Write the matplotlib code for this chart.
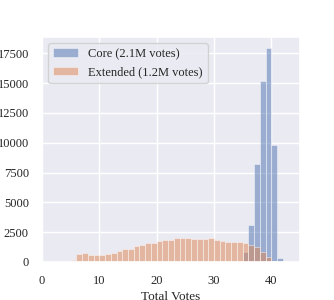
import matplotlib
matplotlib.use("Agg")
import matplotlib.pyplot as plt
import seaborn as sns
import numpy as np

sns.set_theme(style="darkgrid")
plt.rcParams['font.family'] = ['Liberation Serif', 'DejaVu Serif']

# bin left edges (width 1)
core_bins = [35, 36, 37, 38, 39, 40, 41]
core_counts = [830, 3080, 8220, 15140, 17980, 9780, 330]

ext_bins = list(range(4, 41))
ext_counts = [30, 170, 690, 780, 550, 550, 550, 690, 780, 890, 1060, 1090,
              1320, 1440, 1610, 1610, 1780, 1840, 1810, 2010, 2010, 2010,
              1950, 1925, 1925, 2010, 1810, 1750, 1700, 1640, 1670, 1550,
              1440, 1210, 860, 430, 115]

labels = ["Core (2.1M votes)", "Extended (1.2M votes)"]
colors = ["#4C72B0", "#DD8452"]

fig = plt.figure(figsize=(3.34, 3.0), dpi=100)
ax = fig.add_axes([0.126, 0.127, 0.772, 0.75])

edges = np.arange(0, 46)
ax.hist(core_bins, bins=edges, weights=core_counts, color=colors[0], alpha=0.5,
        edgecolor="white", linewidth=0.6, label=labels[0])
ax.hist(ext_bins, bins=edges, weights=ext_counts, color=colors[1], alpha=0.5,
        edgecolor="white", linewidth=0.6, label=labels[1])

ax.set_xlim(0, 45)
ax.set_xticks([0, 10, 20, 30, 40])
ax.set_yticks(np.arange(0, 17501, 2500))
ax.tick_params(labelsize=9)
ax.set_xlabel("Total Votes", fontsize=9.5, labelpad=2.5)
ax.legend(loc="upper left", fontsize=9)

fig.savefig("out.png", dpi=100)
